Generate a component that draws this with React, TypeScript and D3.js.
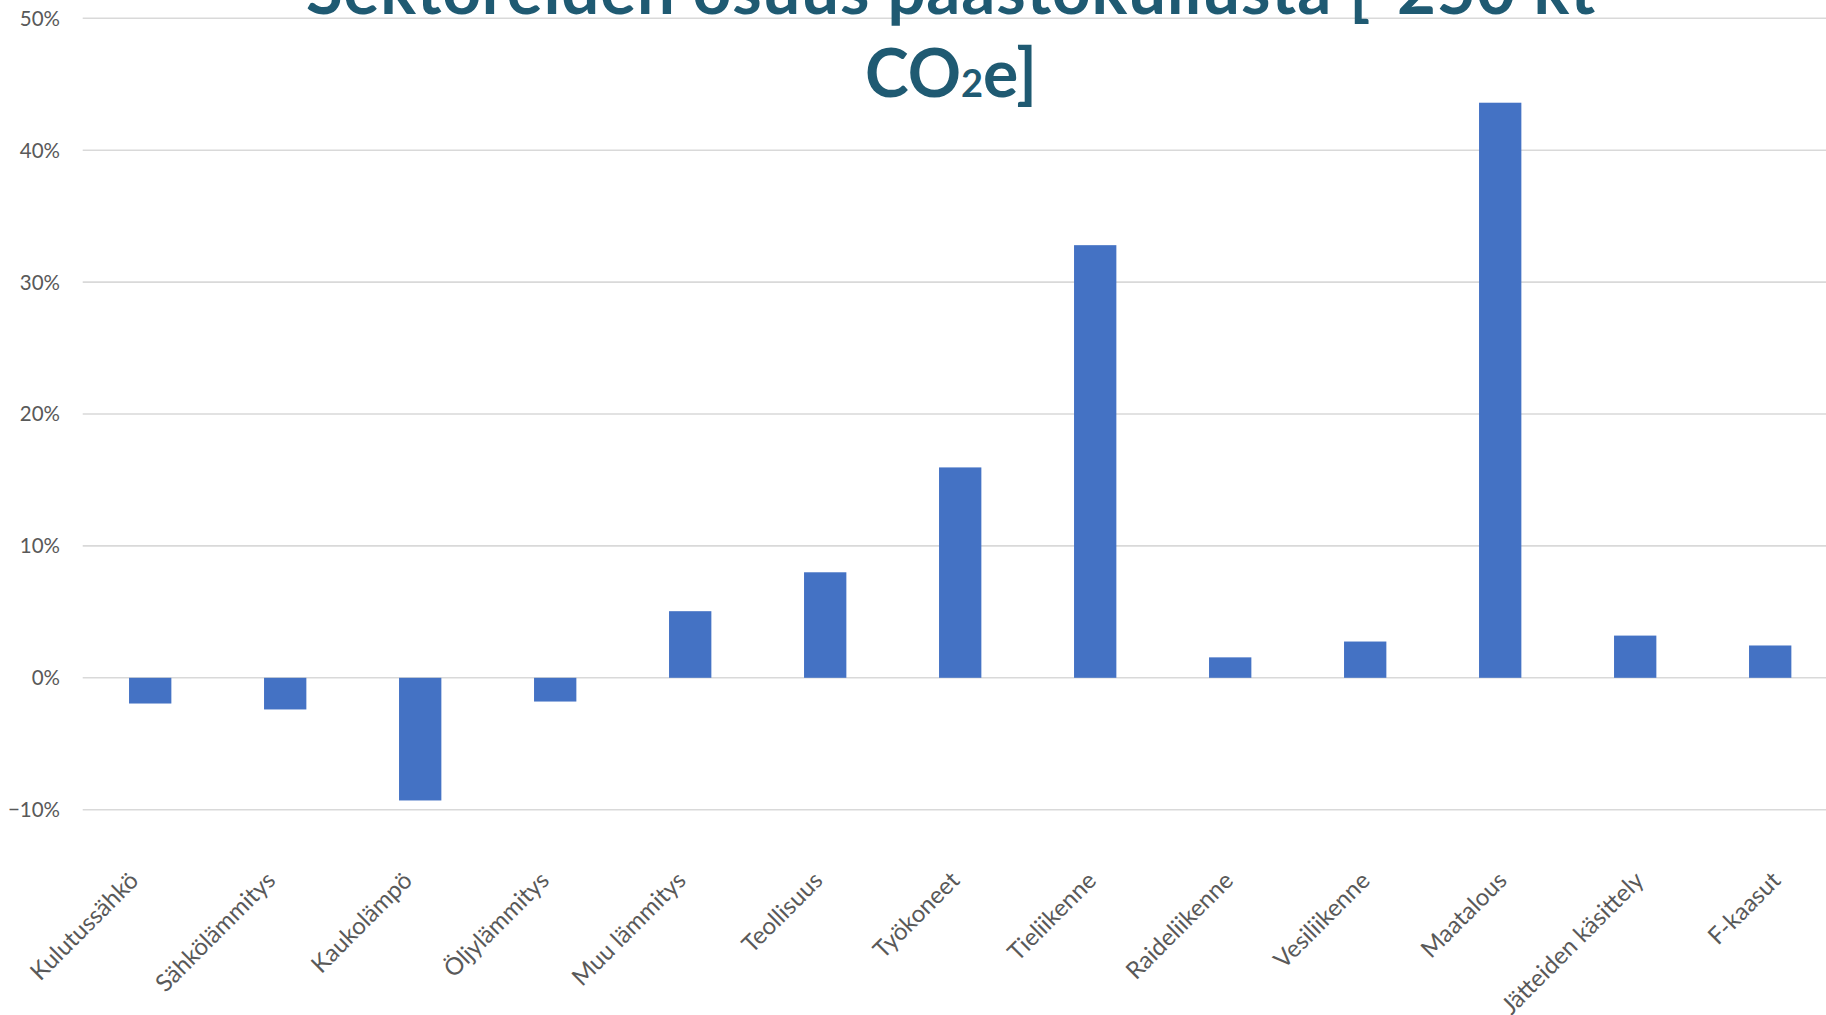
import React from "react";
import * as d3 from "d3";

// Sector shares of the emission gap (%)
const categories: string[] = [
  "Kulutussähkö",
  "Sähkölämmitys",
  "Kaukolämpö",
  "Öljylämmitys",
  "Muu lämmitys",
  "Teollisuus",
  "Työkoneet",
  "Tieliikenne",
  "Raideliikenne",
  "Vesiliikenne",
  "Maatalous",
  "Jätteiden käsittely",
  "F-kaasut",
];

const shares: number[] = [-1.95, -2.4, -9.3, -1.8, 5.05, 8.0, 15.95, 32.8, 1.55, 2.75, 43.6, 3.2, 2.45];

const yTicks: number[] = [-10, 0, 10, 20, 30, 40, 50];

const titleLine1 = "Sektoreiden osuus päästökuilusta [-250 kt";
const titleLine2Main = "CO";
const titleLine2Sub = "2";
const titleLine2End = "e]";

const W = 1826;
const H = 1015;
const plotLeft = 82.7;
const catStep = 135;
const plotTop = 18.3;
const plotBottom = 809.7;
const gapWidth = 2.19;

const BAR = "#4472C4";
const GRID = "#D9D9D9";
const LABEL = "#595959";
const TITLE = "#1F5A72";

export default function App() {
  const x = d3
    .scaleBand<string>()
    .domain(categories)
    .range([plotLeft, plotLeft + catStep * categories.length])
    .padding(0);
  // anchor points for the rotated category labels
  const xl = d3.scalePoint<string>().domain(categories).range([140, 1782]);
  const y = d3.scaleLinear().domain([-10, 50]).range([plotBottom, plotTop]);
  const bw = x.bandwidth() / (1 + gapWidth);

  return (
    <svg
      width={W}
      height={H}
      viewBox={`0 0 ${W} ${H}`}
      style={{ position: "absolute", left: 0, top: 0, display: "block", background: "#fff" }}
    >
      <rect x={0} y={0} width={W} height={H} fill="#fff" />
      {/* gridlines */}
      {yTicks.map((t) => (
        <line
          key={t}
          x1={plotLeft}
          x2={W}
          y1={y(t)}
          y2={y(t)}
          stroke={GRID}
          strokeWidth={1.6}
        />
      ))}
      {/* y tick labels */}
      {yTicks.map((t) => (
        <text
          key={"l" + t}
          x={60}
          y={y(t) + 7.4}
          textAnchor="end"
          fontFamily="Lato, sans-serif"
          fontSize={20.5}
          fill={LABEL}
        >
          {d3.format(".0f")(t) + "%"}
        </text>
      ))}
      {/* bars */}
      {categories.map((c, i) => {
        const v = shares[i];
        const x0 = (x(c) as number) + (x.bandwidth() - bw) / 2;
        const y0 = y(Math.max(0, v));
        const y1 = y(Math.min(0, v));
        return <rect key={c} x={x0} y={y0} width={bw} height={y1 - y0} fill={BAR} />;
      })}
      {/* category labels */}
      {categories.map((c) => {
        const cx = xl(c) as number;
        const cy = 882;
        return (
          <text
            key={"c" + c}
            x={cx}
            y={cy}
            transform={`rotate(-45 ${cx} ${cy})`}
            textAnchor="end"
            fontFamily="Lato, sans-serif"
            fontSize={24}
            fill={LABEL}
          >
            {c}
          </text>
        );
      })}
      {/* title */}
      <g fontFamily="Lato, sans-serif" fontWeight={700} fill={TITLE} textAnchor="middle">
        <text x={951} y={14} fontSize={67} letterSpacing={0.9}>
          {titleLine1}
        </text>
        <text x={951} y={97} fontSize={66}>
          {titleLine2Main}
          <tspan fontSize={38}>{titleLine2Sub}</tspan>
          {titleLine2End}
        </text>
      </g>
    </svg>
  );
}
